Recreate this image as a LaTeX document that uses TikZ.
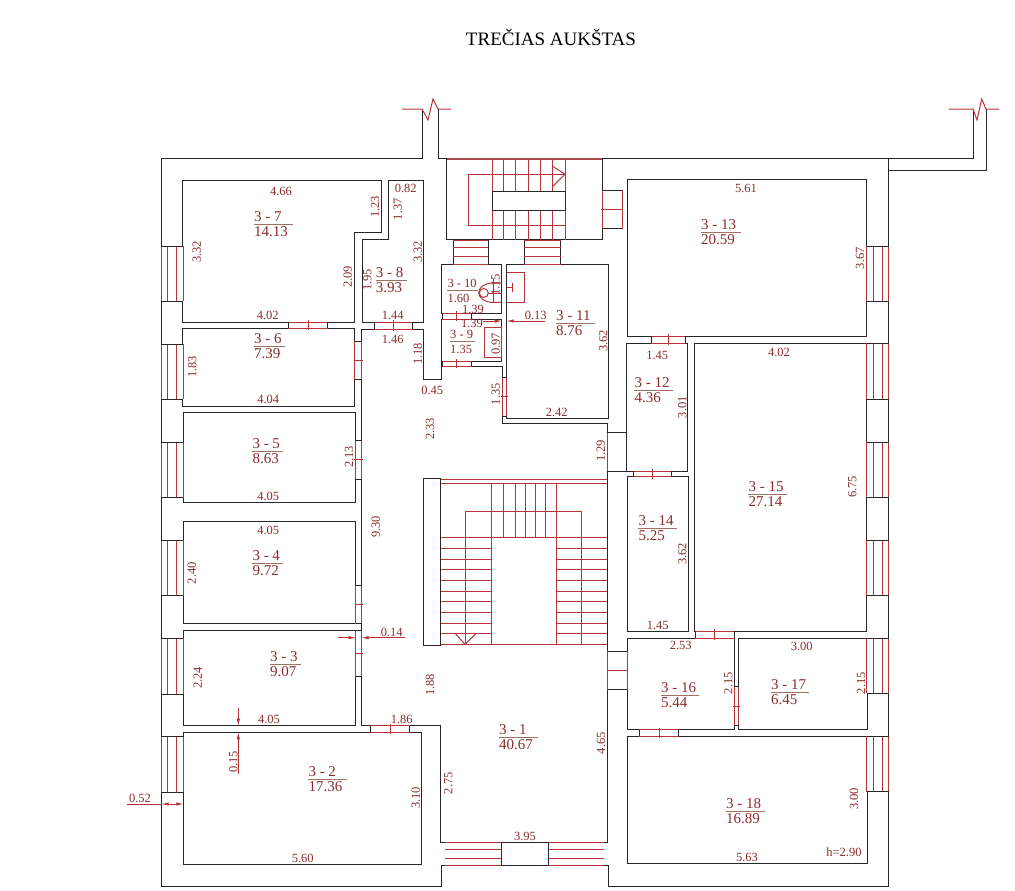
\documentclass[tikz,border=0pt]{standalone}
\usepackage{fontspec}
\setmainfont{Liberation Serif}
\usetikzlibrary{arrows.meta}
\definecolor{wallblack}{HTML}{262626}
\definecolor{planred}{HTML}{B8323A}
\definecolor{labelred}{HTML}{8A2C2C}
\definecolor{rulebrown}{HTML}{A07060}
\tikzset{
    wall/.style={draw=wallblack,line width=1pt},
    redline/.style={draw=planred,line width=1pt},
    dimtxt/.style={text=labelred,inner sep=0pt,font=\fontsize{12.5}{13}\selectfont},
    dimrot/.style={dimtxt,rotate=90},
    roomtxt/.style={text=labelred,inner sep=0pt,anchor=base west,font=\fontsize{15}{16}\selectfont},
    roomsmall/.style={roomtxt,font=\fontsize{12.5}{13}\selectfont},
    arrowline/.style={draw=planred,line width=.8pt,-{Latex[length=7pt,width=3.5pt]}},
}
% number over area, #3 #4 = start of the rule
\newcommand{\roomlabel}[7][roomtxt]{
    \node[#1] (r#2) at (#3,#4-3) {#5};
    \node[#1] (a#2) at (#3,#4+12) {#6};
    \draw[rulebrown,line width=.8pt] (#3,#4) -- ++(#7,0);
}
% door in a horizontal wall: x1,x2,y1,y2
\newcommand{\doorh}[4]{
    \draw[redline,fill=white] (#1,#3) rectangle (#2,#4);
    \draw[wall] (#1,#3) -- (#1,#4) (#2,#3) -- (#2,#4);
    \draw[redline] ({(#1+#2)/2},#3-2) -- ({(#1+#2)/2},#4+2);
}
% door in a vertical wall: x1,x2,y1,y2
\newcommand{\doorv}[4]{
    \draw[redline,fill=white] (#1,#3) rectangle (#2,#4);
    \draw[wall] (#1,#3) -- (#2,#3) (#1,#4) -- (#2,#4);
    \draw[redline] (#1-1,{(#3+#4)/2}) -- (#2+1,{(#3+#4)/2});
}
% window: x1,x2,x3,x4,y1,y2
\newcommand{\windowrow}[6]{
    \draw[draw=none,fill=white] (#1,#5) rectangle (#4,#6);
    \foreach \wx in {#1,#2,#3,#4} {
        \draw[redline] (\wx,#5) -- (\wx,#6);
    }
    \draw[wall] (#1,#5) -- (#4,#5) (#1,#6) -- (#4,#6);
}
\begin{document}
\begin{tikzpicture}[x=1pt,y=-1pt]
    \useasboundingbox (0,0) rectangle (1015,891);

    \node[font=\fontsize{19}{21}\selectfont,inner sep=0pt] (title) at (551,37.5) {TREČIAS AUKŠTAS};

    % outer walls
    \draw[wall] (422,109) -- (422,158) -- (161,158) -- (161,886) -- (441,886) -- (441,865) -- (608,865)
        -- (608,886) -- (888.5,886) -- (888.5,158);
    \draw[wall] (438,109) -- (438,158) -- (973,158) -- (973,109);
    \draw[wall] (986,109) -- (986,170.5) -- (888.5,170.5);
    \draw[planred,line width=1pt] (402,109) -- (422,109) -- (428,120) -- (433,99) -- (438,109) -- (451,109);
    \draw[planred,line width=1pt] (949,109) -- (973,109) -- (977,120) -- (981.7,99) -- (986,109) -- (999,109);

    % rooms
    \draw[wall] (182.5,180.3) -- (381.3,180.3) -- (381.3,232.7) -- (354,232.7) -- (354,322.3) -- (182.5,322.3) -- cycle;
    \draw[wall] (388.7,180.3) -- (423,180.3) -- (423,322.3) -- (362,322.3) -- (362,239) -- (388.7,239) -- cycle;
    \draw[wall] (182.7,328.3) rectangle (354.7,406);
    \draw[wall] (183.3,412) rectangle (355,502.3);
    \draw[wall] (183.3,521.7) rectangle (355.7,623.7);
    \draw[wall] (183.3,630) rectangle (355.7,725.7);
    \draw[wall] (183.3,732) rectangle (421.7,864);
    \draw[wall] (441.7,264.3) rectangle (501.7,313.3);
    \draw[wall] (441.7,319.3) rectangle (501.7,361);
    \draw[wall] (506.7,264) rectangle (608.7,418.3);
    \draw[wall] (627.3,179.3) rectangle (866,336.3);
    \draw[wall] (626.7,343.3) rectangle (687.7,471.3);
    \draw[wall] (627.3,476.7) rectangle (688.3,631);
    \draw[wall] (694.3,343.3) rectangle (866.5,631);
    \draw[wall] (627.3,638.3) rectangle (734.3,729.7);
    \draw[wall] (738.7,638.3) rectangle (867,729.7);
    \draw[wall] (627.3,736.3) rectangle (867,863.3);

    % corridor and hall walls
    \draw[wall] (361.7,329.3) -- (423,329.3) -- (423,379.3) -- (441.7,379.3) -- (441.7,361);
    \draw[wall] (361.7,329.3) -- (361.7,725.7) -- (440.7,725.7) -- (440.7,842) -- (445,842);
    \draw[wall] (441.7,366) -- (502.3,366) -- (502.3,423) -- (607.5,423) -- (607.5,651);
    \draw[wall] (607.5,689) -- (607.5,842) -- (604,842);
    \draw[wall] (423,478.7) rectangle (440.7,645.7);
    \draw[wall] (446.7,158) -- (446.7,239.7) -- (602,239.7) -- (602,158);
    \draw[wall] (453.3,239.7) -- (453.3,265) (488.3,239.7) -- (488.3,265) (524.3,239.7) -- (524.3,265) (560.7,239.7) -- (560.7,265);
    \draw[wall] (607.5,432.7) -- (627,432.7) (607.5,471.3) -- (627,471.3);

    % upper stairs
    \foreach \x in {492.3,503,515.7,528.3,540.3,552.3,565} {
        \draw[redline] (\x,160) -- (\x,239.7);
    }
    \draw[redline] (565,174.3) -- (468.3,174.3) -- (468.3,225) -- (565,225);
    \draw[redline] (552.3,166) -- (565,174.3) -- (552.3,186.7);
    \draw[wall,fill=white] (492,191.7) rectangle (565,210);
    \draw[planred!70!gray,line width=2.4pt] (447,159) -- (602,159);
    \foreach \y in {240,247.3,256.7,264.3} {
        \draw[redline] (453.3,\y) -- (488.3,\y);
        \draw[redline] (524.3,\y) -- (560.7,\y);
    }
    \doorv{602}{622.3}{190}{228}

    % main stairs
    \draw[redline] (440.7,479) -- (607,479) (440.7,483) -- (607,483);
    \foreach \x in {503.3,515,525.7,535.7,545.3} {
        \draw[redline] (\x,483) -- (\x,537.7);
    }
    \draw[redline] (491.7,483) -- (491.7,644.3) (556,483) -- (556,644.3);
    \draw[redline] (465,644.3) -- (465,511.3) -- (581.7,511.3) -- (581.7,644.3);
    \draw[redline] (440.7,537.7) -- (607,537.7) (440.7,644.3) -- (607,644.3);
    \foreach \y in {548.3,559,569.7,580.3,591,601.7,612.3,623,633.7} {
        \draw[redline] (440.7,\y) -- (491.7,\y);
        \draw[redline] (556,\y) -- (607,\y);
    }
    \draw[redline] (455.7,634) -- (465,644.3) -- (475.7,634);

    % entrance steps
    \foreach \y in {842.3,849,858,865} {
        \draw[redline] (445,\y) -- (604,\y);
    }
    \draw[wall,fill=white] (501,842) rectangle (548,865);

    % doors
    \doorh{288.3}{327.7}{322.3}{328.3}
    \doorh{374}{412.3}{322.3}{329.3}
    \doorh{442}{471.7}{313.3}{319.3}
    \doorh{442}{471.7}{361}{366}
    \doorh{651.7}{685.7}{336.3}{343.3}
    \doorh{633.3}{671.3}{471.3}{476.7}
    \doorh{695}{734.3}{631}{638.3}
    \doorh{639.7}{678.3}{729.7}{736.3}
    \doorh{370.7}{409.3}{725.7}{732}
    \doorv{354.7}{361.7}{341}{379.3}
    \doorv{355}{361.7}{440.7}{479}
    \doorv{355.7}{361.7}{585}{623.3}
    \doorv{355.7}{361.7}{630}{676.7}
    \doorv{502.3}{506.7}{377.7}{416}
    \doorv{734.3}{738.7}{686.7}{725.7}
    \doorv{607.7}{627}{651}{689}
    \draw[planred,line width=1.2pt] (607.5,433) -- (607.5,471);

    % windows
    \foreach \ya/\yb in {246/301.3,344/399.3,442.3/497.7,540.3/595.7,638.3/694,736.7/792} {
        \windowrow{161}{167.3}{176.7}{183}{\ya}{\yb}
    }
    \foreach \ya/\yb in {246/301.3,343.3/399.3,442.3/497.3,540/595.7,638/693.3,736.3/791.7} {
        \windowrow{866.5}{873}{882}{888.5}{\ya}{\yb}
    }

    % fixtures
    \draw[redline] (506.7,272.3) -- (524.3,272.3) -- (524.3,302.3) -- (506.7,302.3);
    \draw[redline] (506.7,287.3) -- (512,287.3) (512,283) -- (512,292);
    \draw[redline] (501.7,283) -- (492.7,283) arc[start angle=270,end angle=90,x radius=14,y radius=9.7] -- (501.7,302.4);
    \draw[redline] (483.8,293) circle[radius=4.5];
    \draw[redline] (493.3,279) -- (493.3,302.3) (488.3,293) -- (501.7,293);
    \draw[redline] (484.3,327.7) rectangle (501.7,357.3);

    % dimension arrows
    \draw[arrowline] (483,321) -- (501.7,321);
    \draw[arrowline] (545,321) -- (506.7,321);
    \draw[arrowline] (338.3,637.7) -- (355.7,637.7);
    \draw[arrowline] (405,637.7) -- (361.7,637.7);
    \draw[arrowline] (238.3,708.3) -- (238.3,725.7);
    \draw[arrowline] (238.3,774) -- (238.3,732.3);
    \draw[planred,line width=.8pt] (127.3,804) -- (161.7,804);
    \draw[arrowline,{Latex[length=7pt,width=3.5pt]}-{Latex[length=7pt,width=3.5pt]}] (161.7,804) -- (183.3,804);

    % room names
    \roomlabel{1}{499}{737.7}{3 - 1}{40.67}{38.7}
    \roomlabel{2}{308.3}{779}{3 - 2}{17.36}{39}
    \roomlabel{3}{270}{664}{3 - 3}{9.07}{31}
    \roomlabel{4}{252.3}{563}{3 - 4}{9.72}{31}
    \roomlabel{5}{252.3}{451.3}{3 - 5}{8.63}{31}
    \roomlabel{6}{254}{346}{3 - 6}{7.39}{31}
    \roomlabel{7}{254}{224.7}{3 - 7}{14.13}{38.7}
    \roomlabel{8}{375.7}{280.7}{3 - 8}{3.93}{31}
    \roomlabel[roomsmall]{9}{450}{341.5}{3 - 9}{1.35}{25}
    \roomlabel[roomsmall]{10}{447.3}{290.5}{3 - 10}{1.60}{31}
    \roomlabel{11}{556}{323.3}{3 - 11}{8.76}{39}
    \roomlabel{12}{634.3}{390}{3 - 12}{4.36}{39}
    \roomlabel{13}{701}{232.7}{3 - 13}{20.59}{39.7}
    \roomlabel{14}{638.3}{528.3}{3 - 14}{5.25}{39}
    \roomlabel{15}{748.3}{494}{3 - 15}{27.14}{39}
    \roomlabel{16}{661}{695.7}{3 - 16}{5.44}{38.3}
    \roomlabel{17}{771}{692}{3 - 17}{6.45}{38}
    \roomlabel{18}{726}{811}{3 - 18}{16.89}{39}

    % dimensions, level
    \foreach \x/\y/\t [count=\i] in {281/191/4.66,405.7/188.7/0.82,267.7/315.7/4.02,392.7/315.7/1.44,392.7/339.3/1.46,
        268.3/399.3/4.04,432.3/390.3/0.45,556.7/412.3/2.42,535.7/315.7/0.13,473/309/1.39,472/323.5/1.39,
        268.3/496/4.05,268.3/530.7/4.05,269/719/4.05,391.7/632.3/0.14,401.7/719/1.86,302.7/858/5.60,
        140/798.3/0.52,525/836.7/3.95,680.7/645/2.53,801.7/646/3.00,657.7/625/1.45,747/857.7/5.63,
        844/852.3/h=2.90,657.3/355.3/1.45,779/352.7/4.02,746/188.7/5.61} {
        \node[dimtxt] (dh\i) at (\x,\y) {\t};
    }
    \foreach \x/\y/\t [count=\i] in {375/206.7/1.23,397.7/209.3/1.37,196.7/251.7/3.32,347.7/276.7/2.09,367.3/280/1.95,
        417.7/251.7/3.32,417.7/354/1.18,192.3/366.7/1.83,430/429/2.33,495.7/394.3/1.35,600.7/450.7/1.29,
        603.3/340.7/3.62,495.7/344/0.97,495.7/285/1.15,349/456.7/2.13,191.7/573.3/2.40,375.7/526.7/9.30,
        197.7/677.7/2.24,233.3/761.7/0.15,430/685/1.88,415.7/797.7/3.10,448.3/783.3/2.75,601/743.3/4.65,
        728.3/683.3/2.15,861/683.3/2.15,854/799/3.00,682.3/407.3/3.01,682.3/554/3.62,852.3/486.7/6.75,860/258.3/3.67} {
        \node[dimrot] (dv\i) at (\x,\y) {\t};
    }
\end{tikzpicture}
\end{document}
